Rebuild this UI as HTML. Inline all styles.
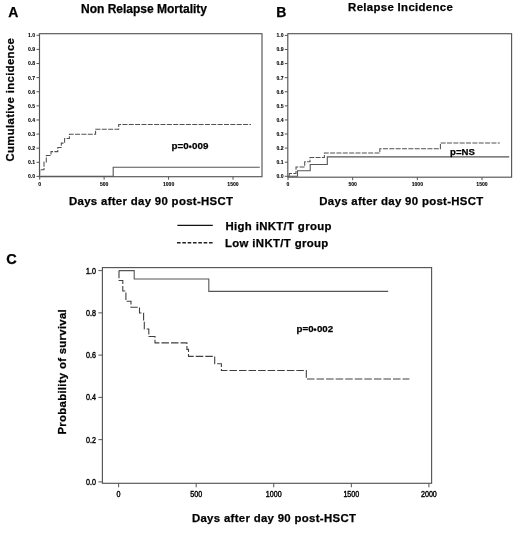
<!DOCTYPE html><html><head><meta charset="utf-8"><style>html,body{margin:0;padding:0;background:#fff;overflow:hidden;width:520px;height:535px;}svg{display:block;will-change:transform;}text{font-family:"Liberation Sans",sans-serif;fill:#000;stroke:#000;stroke-width:0.25px;}</style></head><body>
<svg width="520" height="535" viewBox="0 0 520 535">
<text x="8.3" y="17.1" font-size="14" font-weight="bold">A</text>
<text x="81" y="12.7" font-size="12" font-weight="bold">Non Relapse Mortality</text>
<rect x="39.5" y="33.7" width="222.5" height="143.0" fill="none" stroke="#555" stroke-width="1.15"/>
<line x1="36.5" y1="176.40" x2="39.5" y2="176.40" stroke="#555" stroke-width="1"/>
<text transform="translate(35,178.30) scale(1.0,1)" x="0" y="0" font-size="5.1" font-weight="bold" style="stroke-width:0.1px" text-anchor="end">0.0</text>
<line x1="36.5" y1="162.29" x2="39.5" y2="162.29" stroke="#555" stroke-width="1"/>
<text transform="translate(35,164.19) scale(1.0,1)" x="0" y="0" font-size="5.1" font-weight="bold" style="stroke-width:0.1px" text-anchor="end">0.1</text>
<line x1="36.5" y1="148.18" x2="39.5" y2="148.18" stroke="#555" stroke-width="1"/>
<text transform="translate(35,150.08) scale(1.0,1)" x="0" y="0" font-size="5.1" font-weight="bold" style="stroke-width:0.1px" text-anchor="end">0.2</text>
<line x1="36.5" y1="134.07" x2="39.5" y2="134.07" stroke="#555" stroke-width="1"/>
<text transform="translate(35,135.97) scale(1.0,1)" x="0" y="0" font-size="5.1" font-weight="bold" style="stroke-width:0.1px" text-anchor="end">0.3</text>
<line x1="36.5" y1="119.96" x2="39.5" y2="119.96" stroke="#555" stroke-width="1"/>
<text transform="translate(35,121.86) scale(1.0,1)" x="0" y="0" font-size="5.1" font-weight="bold" style="stroke-width:0.1px" text-anchor="end">0.4</text>
<line x1="36.5" y1="105.85" x2="39.5" y2="105.85" stroke="#555" stroke-width="1"/>
<text transform="translate(35,107.75) scale(1.0,1)" x="0" y="0" font-size="5.1" font-weight="bold" style="stroke-width:0.1px" text-anchor="end">0.5</text>
<line x1="36.5" y1="91.74" x2="39.5" y2="91.74" stroke="#555" stroke-width="1"/>
<text transform="translate(35,93.64) scale(1.0,1)" x="0" y="0" font-size="5.1" font-weight="bold" style="stroke-width:0.1px" text-anchor="end">0.6</text>
<line x1="36.5" y1="77.63" x2="39.5" y2="77.63" stroke="#555" stroke-width="1"/>
<text transform="translate(35,79.53) scale(1.0,1)" x="0" y="0" font-size="5.1" font-weight="bold" style="stroke-width:0.1px" text-anchor="end">0.7</text>
<line x1="36.5" y1="63.52" x2="39.5" y2="63.52" stroke="#555" stroke-width="1"/>
<text transform="translate(35,65.42) scale(1.0,1)" x="0" y="0" font-size="5.1" font-weight="bold" style="stroke-width:0.1px" text-anchor="end">0.8</text>
<line x1="36.5" y1="49.41" x2="39.5" y2="49.41" stroke="#555" stroke-width="1"/>
<text transform="translate(35,51.31) scale(1.0,1)" x="0" y="0" font-size="5.1" font-weight="bold" style="stroke-width:0.1px" text-anchor="end">0.9</text>
<line x1="36.5" y1="35.30" x2="39.5" y2="35.30" stroke="#555" stroke-width="1"/>
<text transform="translate(35,37.20) scale(1.0,1)" x="0" y="0" font-size="5.1" font-weight="bold" style="stroke-width:0.1px" text-anchor="end">1.0</text>
<line x1="39.70" y1="176.7" x2="39.70" y2="179.7" stroke="#555" stroke-width="1"/>
<text transform="translate(39.70,185.9) scale(1.0,1)" x="0" y="0" font-size="5.1" font-weight="bold" style="stroke-width:0.1px" text-anchor="middle">0</text>
<line x1="104.13" y1="176.7" x2="104.13" y2="179.7" stroke="#555" stroke-width="1"/>
<text transform="translate(104.13,185.9) scale(1.0,1)" x="0" y="0" font-size="5.1" font-weight="bold" style="stroke-width:0.1px" text-anchor="middle">500</text>
<line x1="168.57" y1="176.7" x2="168.57" y2="179.7" stroke="#555" stroke-width="1"/>
<text transform="translate(168.57,185.9) scale(1.0,1)" x="0" y="0" font-size="5.1" font-weight="bold" style="stroke-width:0.1px" text-anchor="middle">1000</text>
<line x1="233.00" y1="176.7" x2="233.00" y2="179.7" stroke="#555" stroke-width="1"/>
<text transform="translate(233.00,185.9) scale(1.0,1)" x="0" y="0" font-size="5.1" font-weight="bold" style="stroke-width:0.1px" text-anchor="middle">1500</text>
<text transform="translate(14.3,99.8) rotate(-90)" x="0" y="0" font-size="11.3" font-weight="bold" text-anchor="middle" textLength="123.36">Cumulative incidence</text>
<text x="69" y="204.5" font-size="11.4" font-weight="bold" textLength="164">Days after day 90 post-HSCT</text>
<path d="M39.7,176.2 H113.2 V167.2 H259.8" fill="none" stroke="#555" stroke-width="1.1"/>
<path d="M39.7,176.4 V169.7 H44 V162 H46.3 V155.5 H51 V151.6 H57.8 V147.5 H61.3 V143.1 H64.6 V138.5 H69.4 V134.2 H95.6 V129.2 H118.7 V124.4 H251" fill="none" stroke="#505050" stroke-width="1.05" stroke-dasharray="5 1.35" stroke-dashoffset="5.0"/>
<text x="171.5" y="149.2" font-size="9.8" font-weight="bold">p=0<tspan dy="0.6" font-size="8.6">•</tspan><tspan dy="-0.6" dx="0.4">009</tspan></text>
<text x="276.3" y="17.3" font-size="14" font-weight="bold">B</text>
<text x="348.1" y="10.9" font-size="11.4" font-weight="bold" textLength="104.7">Relapse Incidence</text>
<rect x="287.8" y="33.7" width="223.8" height="143.5" fill="none" stroke="#555" stroke-width="1.15"/>
<line x1="284.8" y1="176.30" x2="287.8" y2="176.30" stroke="#555" stroke-width="1"/>
<text transform="translate(283.5,178.20) scale(1.0,1)" x="0" y="0" font-size="5.1" font-weight="bold" style="stroke-width:0.1px" text-anchor="end">0.0</text>
<line x1="284.8" y1="162.21" x2="287.8" y2="162.21" stroke="#555" stroke-width="1"/>
<text transform="translate(283.5,164.11) scale(1.0,1)" x="0" y="0" font-size="5.1" font-weight="bold" style="stroke-width:0.1px" text-anchor="end">0.1</text>
<line x1="284.8" y1="148.12" x2="287.8" y2="148.12" stroke="#555" stroke-width="1"/>
<text transform="translate(283.5,150.02) scale(1.0,1)" x="0" y="0" font-size="5.1" font-weight="bold" style="stroke-width:0.1px" text-anchor="end">0.2</text>
<line x1="284.8" y1="134.03" x2="287.8" y2="134.03" stroke="#555" stroke-width="1"/>
<text transform="translate(283.5,135.93) scale(1.0,1)" x="0" y="0" font-size="5.1" font-weight="bold" style="stroke-width:0.1px" text-anchor="end">0.3</text>
<line x1="284.8" y1="119.94" x2="287.8" y2="119.94" stroke="#555" stroke-width="1"/>
<text transform="translate(283.5,121.84) scale(1.0,1)" x="0" y="0" font-size="5.1" font-weight="bold" style="stroke-width:0.1px" text-anchor="end">0.4</text>
<line x1="284.8" y1="105.85" x2="287.8" y2="105.85" stroke="#555" stroke-width="1"/>
<text transform="translate(283.5,107.75) scale(1.0,1)" x="0" y="0" font-size="5.1" font-weight="bold" style="stroke-width:0.1px" text-anchor="end">0.5</text>
<line x1="284.8" y1="91.76" x2="287.8" y2="91.76" stroke="#555" stroke-width="1"/>
<text transform="translate(283.5,93.66) scale(1.0,1)" x="0" y="0" font-size="5.1" font-weight="bold" style="stroke-width:0.1px" text-anchor="end">0.6</text>
<line x1="284.8" y1="77.67" x2="287.8" y2="77.67" stroke="#555" stroke-width="1"/>
<text transform="translate(283.5,79.57) scale(1.0,1)" x="0" y="0" font-size="5.1" font-weight="bold" style="stroke-width:0.1px" text-anchor="end">0.7</text>
<line x1="284.8" y1="63.58" x2="287.8" y2="63.58" stroke="#555" stroke-width="1"/>
<text transform="translate(283.5,65.48) scale(1.0,1)" x="0" y="0" font-size="5.1" font-weight="bold" style="stroke-width:0.1px" text-anchor="end">0.8</text>
<line x1="284.8" y1="49.49" x2="287.8" y2="49.49" stroke="#555" stroke-width="1"/>
<text transform="translate(283.5,51.39) scale(1.0,1)" x="0" y="0" font-size="5.1" font-weight="bold" style="stroke-width:0.1px" text-anchor="end">0.9</text>
<line x1="284.8" y1="35.40" x2="287.8" y2="35.40" stroke="#555" stroke-width="1"/>
<text transform="translate(283.5,37.30) scale(1.0,1)" x="0" y="0" font-size="5.1" font-weight="bold" style="stroke-width:0.1px" text-anchor="end">1.0</text>
<line x1="288.00" y1="177.2" x2="288.00" y2="180.2" stroke="#555" stroke-width="1"/>
<text transform="translate(288.00,185.9) scale(1.0,1)" x="0" y="0" font-size="5.1" font-weight="bold" style="stroke-width:0.1px" text-anchor="middle">0</text>
<line x1="352.67" y1="177.2" x2="352.67" y2="180.2" stroke="#555" stroke-width="1"/>
<text transform="translate(352.67,185.9) scale(1.0,1)" x="0" y="0" font-size="5.1" font-weight="bold" style="stroke-width:0.1px" text-anchor="middle">500</text>
<line x1="417.33" y1="177.2" x2="417.33" y2="180.2" stroke="#555" stroke-width="1"/>
<text transform="translate(417.33,185.9) scale(1.0,1)" x="0" y="0" font-size="5.1" font-weight="bold" style="stroke-width:0.1px" text-anchor="middle">1000</text>
<line x1="482.00" y1="177.2" x2="482.00" y2="180.2" stroke="#555" stroke-width="1"/>
<text transform="translate(482.00,185.9) scale(1.0,1)" x="0" y="0" font-size="5.1" font-weight="bold" style="stroke-width:0.1px" text-anchor="middle">1500</text>
<text x="319.3" y="204.5" font-size="11.4" font-weight="bold" textLength="164">Days after day 90 post-HSCT</text>
<path d="M288,176.3 H297.5 V170.8 H310.2 V164.5 H327.3 V156.9 H509.2" fill="none" stroke="#555" stroke-width="1.1"/>
<path d="M288,176.3 H289.3 V173.4 H296 V166.9 H304.7 V161.8 H310 V157.5 H324.4 V153 H379.8 V148.7 H440.4 V142.9 H499.8" fill="none" stroke="#505050" stroke-width="1.05" stroke-dasharray="5 1.35" stroke-dashoffset="4.45"/>
<text x="450.1" y="154.6" font-size="9.6" font-weight="bold">p=NS</text>
<line x1="177.4" y1="225.4" x2="212.8" y2="225.4" stroke="#111" stroke-width="1.4"/>
<line x1="177" y1="242.8" x2="212.6" y2="242.8" stroke="#222" stroke-width="1.4" stroke-dasharray="3.6 1.73"/>
<text x="225.5" y="229.5" font-size="11.4" font-weight="bold" textLength="105.97">High iNKT/T group</text>
<text x="225" y="247" font-size="11.4" font-weight="bold" textLength="103.31">Low iNKT/T group</text>
<text x="6.2" y="264.2" font-size="14.5" font-weight="bold">C</text>
<rect x="102.4" y="267.6" width="329.20000000000005" height="215.7" fill="none" stroke="#555" stroke-width="1.15"/>
<line x1="98.4" y1="481.90" x2="102.4" y2="481.90" stroke="#555" stroke-width="1"/>
<text transform="translate(96,484.80) scale(0.86,1)" x="0" y="0" font-size="8.3" font-weight="normal" style="stroke-width:0.4px" text-anchor="end">0.0</text>
<line x1="98.4" y1="439.64" x2="102.4" y2="439.64" stroke="#555" stroke-width="1"/>
<text transform="translate(96,442.54) scale(0.86,1)" x="0" y="0" font-size="8.3" font-weight="normal" style="stroke-width:0.4px" text-anchor="end">0.2</text>
<line x1="98.4" y1="397.38" x2="102.4" y2="397.38" stroke="#555" stroke-width="1"/>
<text transform="translate(96,400.28) scale(0.86,1)" x="0" y="0" font-size="8.3" font-weight="normal" style="stroke-width:0.4px" text-anchor="end">0.4</text>
<line x1="98.4" y1="355.12" x2="102.4" y2="355.12" stroke="#555" stroke-width="1"/>
<text transform="translate(96,358.02) scale(0.86,1)" x="0" y="0" font-size="8.3" font-weight="normal" style="stroke-width:0.4px" text-anchor="end">0.6</text>
<line x1="98.4" y1="312.86" x2="102.4" y2="312.86" stroke="#555" stroke-width="1"/>
<text transform="translate(96,315.76) scale(0.86,1)" x="0" y="0" font-size="8.3" font-weight="normal" style="stroke-width:0.4px" text-anchor="end">0.8</text>
<line x1="98.4" y1="270.60" x2="102.4" y2="270.60" stroke="#555" stroke-width="1"/>
<text transform="translate(96,273.50) scale(0.86,1)" x="0" y="0" font-size="8.3" font-weight="normal" style="stroke-width:0.4px" text-anchor="end">1.0</text>
<line x1="118.60" y1="483.3" x2="118.60" y2="487.3" stroke="#555" stroke-width="1"/>
<text transform="translate(118.60,496.8) scale(0.86,1)" x="0" y="0" font-size="8.3" font-weight="normal" style="stroke-width:0.4px" text-anchor="middle">0</text>
<line x1="196.18" y1="483.3" x2="196.18" y2="487.3" stroke="#555" stroke-width="1"/>
<text transform="translate(196.18,496.8) scale(0.86,1)" x="0" y="0" font-size="8.3" font-weight="normal" style="stroke-width:0.4px" text-anchor="middle">500</text>
<line x1="273.75" y1="483.3" x2="273.75" y2="487.3" stroke="#555" stroke-width="1"/>
<text transform="translate(273.75,496.8) scale(0.86,1)" x="0" y="0" font-size="8.3" font-weight="normal" style="stroke-width:0.4px" text-anchor="middle">1000</text>
<line x1="351.33" y1="483.3" x2="351.33" y2="487.3" stroke="#555" stroke-width="1"/>
<text transform="translate(351.33,496.8) scale(0.86,1)" x="0" y="0" font-size="8.3" font-weight="normal" style="stroke-width:0.4px" text-anchor="middle">1500</text>
<line x1="428.90" y1="483.3" x2="428.90" y2="487.3" stroke="#555" stroke-width="1"/>
<text transform="translate(428.90,496.8) scale(0.86,1)" x="0" y="0" font-size="8.3" font-weight="normal" style="stroke-width:0.4px" text-anchor="middle">2000</text>
<text transform="translate(66.2,371.9) rotate(-90)" x="0" y="0" font-size="11.4" font-weight="bold" text-anchor="middle" textLength="125.36">Probability of survival</text>
<text x="191.9" y="522.2" font-size="11.4" font-weight="bold" textLength="164">Days after day 90 post-HSCT</text>
<path d="M119,270.6 H134.2 V279 H208.8 V291.4 H388.2" fill="none" stroke="#555" stroke-width="1.1"/>
<path d="M119,270.6 V280.5 H122.8 V291 H125.9 V301.3 H131 V307.2 H139.5 V313 H143.6 V321 H144.3 V329 H148.8 V336.5 H155 V342.9 H186.9 V349.4 H188.5 V356.4 H214.7 V363.7 H221.4 V370.5 H306.3 V379 H409.4" fill="none" stroke="#404040" stroke-width="1.1" stroke-dasharray="7.55 2.01" stroke-dashoffset="0"/>
<text x="296.6" y="332.4" font-size="9.7" font-weight="bold">p=0<tspan dy="0.6" font-size="8.6">•</tspan><tspan dy="-0.6" dx="0.4">002</tspan></text>
</svg></body></html>
